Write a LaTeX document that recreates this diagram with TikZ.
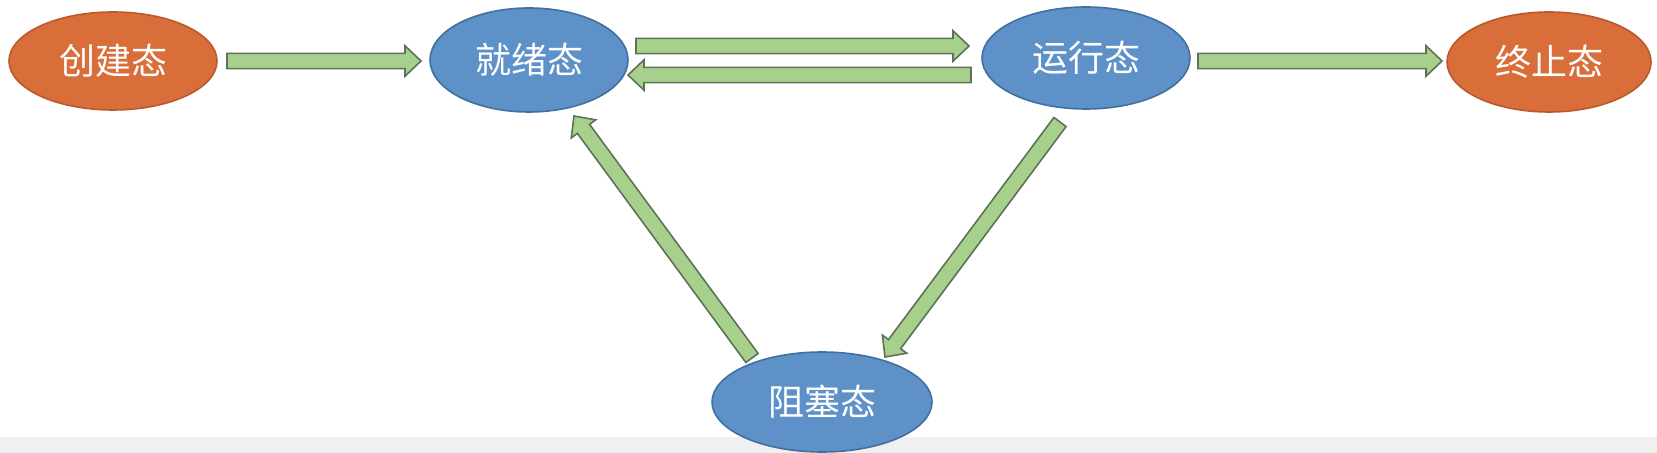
\documentclass[tikz,border=0pt]{standalone}
\usepackage{fontspec}
\newfontfamily\cjk{Noto Sans CJK SC}
\usetikzlibrary{shapes.geometric,calc}
\definecolor{orangefill}{HTML}{D96E3B}
\definecolor{orangeline}{HTML}{B85A2E}
\definecolor{bluefill}{HTML}{5D91C8}
\definecolor{blueline}{HTML}{41709E}
\definecolor{arrowfill}{HTML}{A8D08D}
\definecolor{arrowline}{HTML}{5E7258}
\definecolor{bandgray}{HTML}{F0F0F0}
\tikzset{
  state/.style={ellipse, inner sep=0pt, line width=0.8pt, text=white,
    font=\cjk\fontsize{18}{21}\selectfont},
  orangestate/.style={state, fill=orangefill, draw=orangeline},
  bluestate/.style={state, fill=bluefill, draw=blueline},
  blockarr/.style={fill=arrowfill, draw=arrowline, line width=0.8pt, line join=miter}
}
% block arrow from #1 to #2
\newcommand\blockarrow[2]{%
  \coordinate (#1-#2-h) at ($(#2)!8pt!(#1)$);
  \draw[blockarr] ($(#1)!3.8pt!90:(#2)$) -- ($(#1-#2-h)!3.8pt!90:(#2)$)
    -- ($(#1-#2-h)!7.6pt!90:(#2)$) -- (#2) -- ($(#1-#2-h)!7.6pt!-90:(#2)$)
    -- ($(#1-#2-h)!3.8pt!-90:(#2)$) -- ($(#1)!3.8pt!-90:(#2)$) -- cycle;}
\begin{document}
\begin{tikzpicture}[x=0.5pt,y=-0.5pt]
\useasboundingbox (0,0) rectangle (1657,453);
\fill[bandgray] (0,437) rectangle (1657,453);
\node[orangestate, minimum width=104pt, minimum height=49pt] (create) at (113,61) {创建态};
\node[bluestate, minimum width=99pt, minimum height=52pt] (ready) at (529,60) {就绪态};
\node[bluestate, minimum width=104pt, minimum height=51pt] (run) at (1086,58) {运行态};
\node[orangestate, minimum width=102pt, minimum height=50pt] (term) at (1549,62) {终止态};
\node[bluestate, minimum width=110pt, minimum height=50pt] (block) at (822,402) {阻塞态};
% arrow end points
\coordinate (a1s) at (227,61);  \coordinate (a1e) at (421,61);
\coordinate (a2s) at (636,46);  \coordinate (a2e) at (969,46);
\coordinate (a3s) at (971,75);  \coordinate (a3e) at (628,75);
\coordinate (a4s) at (1198,61); \coordinate (a4e) at (1442,61);
\coordinate (a5s) at (1060,122); \coordinate (a5e) at (885,357);
\coordinate (a6s) at (752,358); \coordinate (a6e) at (574,116);
\blockarrow{a1s}{a1e}
\blockarrow{a2s}{a2e}
\blockarrow{a3s}{a3e}
\blockarrow{a4s}{a4e}
\blockarrow{a5s}{a5e}
\blockarrow{a6s}{a6e}
\end{tikzpicture}
\end{document}
